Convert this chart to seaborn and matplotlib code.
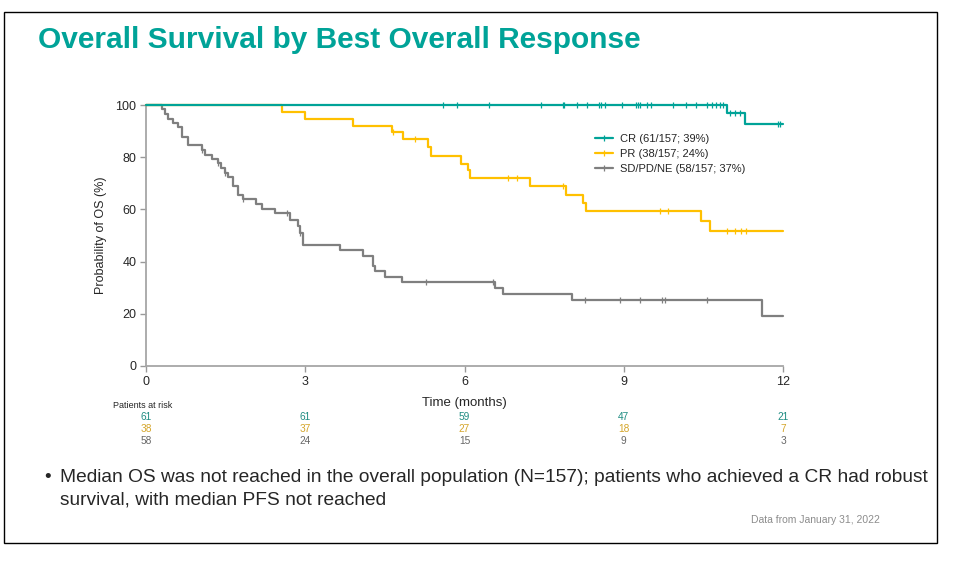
import numpy as np
import pandas as pd
import matplotlib
matplotlib.use("Agg")
import matplotlib.pyplot as plt
from matplotlib.lines import Line2D
from matplotlib.patches import Rectangle
import seaborn as sns

# ---------------- data ----------------
groups = ["CR (61/157; 39%)", "PR (38/157; 24%)", "SD/PD/NE (58/157; 37%)"]
colors = ["#00a398", "#ffc000", "#7f7f7f"]
risk_colors = ["#1f8c82", "#d4a52a", "#666666"]

cr_time = [0, 10.95, 11.28, 12]
cr_surv = [100, 97.1, 92.6, 92.6]
cr_cens = [5.6, 5.86, 6.47, 7.45, 7.85, 7.87, 8.12, 8.3, 8.54, 8.58, 8.64, 8.96,
           9.24, 9.27, 9.3, 9.43, 9.52, 9.93, 10.18, 10.37, 10.56, 10.67, 10.73,
           10.81, 10.87, 11.0, 11.09, 11.19, 11.91, 11.95]

pr_time = [0, 2.57, 2.99, 3.9, 4.63, 4.85, 5.32, 5.36, 5.93, 6.07, 6.1, 7.24,
           7.92, 8.24, 8.28, 10.46, 10.62, 12]
pr_surv = [100, 97.4, 94.7, 92.1, 89.5, 86.8, 83.8, 80.5, 77.4, 75.0, 72.0, 68.9,
           65.7, 62.5, 59.3, 55.6, 51.7, 51.7]
pr_cens = [4.65, 5.07, 6.82, 6.98, 7.85, 9.68, 9.84, 10.94, 11.1, 11.2, 11.3]

sd_time = [0, 0.30, 0.36, 0.42, 0.5, 0.6, 0.67, 0.79, 1.05, 1.11, 1.24, 1.36, 1.42,
           1.48, 1.54, 1.64, 1.73, 1.83, 2.08, 2.18, 2.43, 2.71, 2.86, 2.9, 2.96,
           3.65, 4.09, 4.28, 4.31, 4.5, 4.82, 6.57, 6.73, 8.02, 11.6, 12]
sd_surv = [100, 98.3, 96.6, 94.8, 93.1, 91.4, 87.9, 84.5, 82.8, 81.0, 79.3, 77.6, 75.9,
           74.1, 72.4, 68.9, 65.5, 63.8, 62.1, 60.3, 58.6, 56.0, 53.5, 50.9, 46.4,
           44.3, 42.2, 38.4, 36.3, 34.2, 32.1, 29.9, 27.7, 25.3, 19.0, 19.0]
sd_cens = [1.05, 1.36, 1.48, 1.83, 2.65, 2.9, 5.28, 6.54, 8.27, 8.93, 9.31, 9.72,
           9.78, 10.57]

risk_times = [0, 3, 6, 9, 12]
risk_cr = [61, 61, 59, 47, 21]
risk_pr = [38, 37, 27, 18, 7]
risk_sd = [58, 24, 15, 9, 3]

# ---------------- build long tables ----------------
curves = [(cr_time, cr_surv, cr_cens), (pr_time, pr_surv, pr_cens), (sd_time, sd_surv, sd_cens)]
pal = dict(zip(groups, colors))

# ---------------- figure ----------------
sns.set_style("ticks")
plt.rcParams["font.family"] = ["Liberation Sans", "DejaVu Sans"]

fig = plt.figure(figsize=(9.56, 5.63), dpi=100)
ax = fig.add_axes([146 / 956, 1 - 366 / 563, (783 - 146) / 956, (366 - 105) / 563])

# draw in reverse so CR ends up on top at 100 %
for z, (g, (t, s, c)) in reversed(list(enumerate(zip(groups, curves)))):
    d = pd.DataFrame({"time": t, "surv": s})
    idx = np.searchsorted(t, c, side="right") - 1
    m = pd.DataFrame({"time": c, "surv": np.array(s)[idx]})
    sns.lineplot(data=d, x="time", y="surv", color=pal[g], drawstyle="steps-post",
                 estimator=None, sort=False, linewidth=1.6, ax=ax)
    sns.scatterplot(data=m, x="time", y="surv", color=pal[g], marker="|", s=22,
                    linewidth=0.9, ax=ax)
for art in ax.lines + ax.collections:
    art.set_clip_on(False)

ax.set_xlim(0, 12)
ax.set_ylim(0, 100)
ax.set_xticks([0, 3, 6, 9, 12])
ax.set_yticks([0, 20, 40, 60, 80, 100])
ax.tick_params(labelsize=9, length=4, width=1, color="#999999", pad=3)
for sp in ["top", "right"]:
    ax.spines[sp].set_visible(False)
for sp in ["left", "bottom"]:
    ax.spines[sp].set_color("#a6a6a6")
    ax.spines[sp].set_linewidth(1.3)
    ax.spines[sp].set_zorder(1)
ax.set_xlabel("Time (months)", fontsize=9.5, labelpad=7)
ax.set_ylabel("Probability of OS (%)", fontsize=9, labelpad=6)

handles = [Line2D([], [], color=c, lw=1.6, marker="|", markersize=4, markeredgewidth=0.9)
           for c in colors]
ax.legend(handles, groups, loc="upper left", bbox_to_anchor=(0.705, 0.89),
          frameon=False, fontsize=8, handlelength=1.6, handletextpad=0.6,
          labelspacing=0.45, borderpad=0, borderaxespad=0)

# patients at risk table
fig.text(113 / 956, 1 - 406 / 563, "Patients at risk", fontsize=6.5, va="center", ha="left")
for row, (vals, col) in enumerate(zip([risk_cr, risk_pr, risk_sd], risk_colors)):
    y = 1 - (417 + 12 * row) / 563
    for t, v in zip(risk_times, vals):
        ax.annotate(str(v), xy=(t, y), xycoords=("data", "figure fraction"),
                    ha="center", va="center", fontsize=7.3, color=col)

# slide text
fig.text(38 / 956, 1 - 40 / 563, "Overall Survival by Best Overall Response",
         fontsize=21.5, fontweight="bold", color="#00a398", va="center", ha="left")
fig.text(44 / 956, 1 - 478 / 563, "\u2022", fontsize=13.8, va="center", ha="left")
fig.text(60 / 956, 1 - 478 / 563,
         "Median OS was not reached in the overall population (N=157); patients who achieved a CR had robust",
         fontsize=13.8, va="center", ha="left")
fig.text(60 / 956, 1 - 500 / 563, "survival, with median PFS not reached",
         fontsize=13.8, va="center", ha="left")
fig.text(880 / 956, 1 - 520 / 563, "Data from January 31, 2022", fontsize=7.5,
         color="#8c8c8c", va="center", ha="right")

fig.add_artist(Rectangle((4 / 956, 1 - 543 / 563), (937 - 4) / 956, (543 - 12) / 563,
                         transform=fig.transFigure, fill=False, ec="black", lw=1))

fig.savefig("out.png", dpi=100)
